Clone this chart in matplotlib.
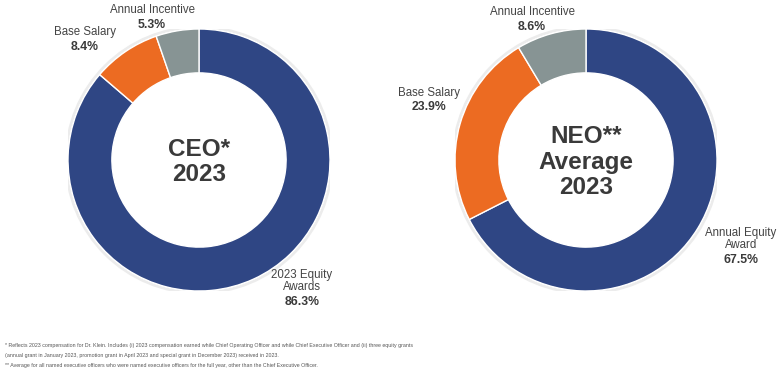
import matplotlib
matplotlib.use("Agg")
import matplotlib.pyplot as plt
from matplotlib.patches import Circle

plt.rcParams['font.family'] = ['Liberation Sans', 'DejaVu Sans']

categories = ["Equity", "Base Salary", "Annual Incentive"]
ceo_values = [86.3, 8.4, 5.3]
neo_values = [67.5, 23.9, 8.6]
colors = ["#2F4684", "#EC6B22", "#879494"]

ceo_center_title = "CEO*\n2023"
neo_center_title = "NEO**\nAverage\n2023"

ceo_labels = ["2023 Equity\nAwards", "Base Salary", "Annual Incentive"]
neo_labels = ["Annual Equity\nAward", "Base Salary", "Annual Incentive"]

footnotes = [
    "* Reflects 2023 compensation for Dr. Klein. Includes (i) 2023 compensation earned while Chief Operating Officer and while Chief Executive Officer and (ii) three equity grants",
    "(annual grant in January 2023, promotion grant in April 2023 and special grant in December 2023) received in 2023.",
    "** Average for all named executive officers who were named executive officers for the full year, other than the Chief Executive Officer.",
]

W, H = 784, 373
fig = plt.figure(figsize=(W / 100, H / 100), dpi=100)
fig.patch.set_facecolor("white")

R = 131.0


def make_ax(cx, cy):
    ax = fig.add_axes([(cx - R) / W, (H - cy - R) / H, 2 * R / W, 2 * R / H])
    ax.set_xlim(-1, 1)
    ax.set_ylim(-1, 1)
    ax.set_aspect("equal")
    ax.axis("off")
    return ax


def px(cx, cy, x, y):
    return ((x - cx) / R, (cy - y) / R)


label_color = "#444444"
pct_color = "#3a3a3a"


def draw(ax, values, title, title_size, title_y):
    ax.add_patch(Circle((0, 0), 1.015, facecolor="none", edgecolor="#ececec", lw=2.0, zorder=0))
    ax.pie(values, colors=colors, startangle=90, counterclock=False, radius=1.0,
           wedgeprops=dict(width=0.335, edgecolor="white", linewidth=1.0))
    ax.set_xlim(-1, 1)
    ax.set_ylim(-1, 1)
    ax.text(0, title_y, title, ha="center", va="center", fontsize=title_size,
            fontweight="bold", color="#3a3a3a", linespacing=1.12)


def label(ax, cx, cy, x, y_name, name, y_pct, value):
    ax.text(*px(cx, cy, x, y_name), name, ha="center", va="center", fontsize=8.3,
            color=label_color, linespacing=1.05, clip_on=False)
    ax.text(*px(cx, cy, x, y_pct), f"{value}%", ha="center", va="center", fontsize=8.8,
            fontweight="bold", color=pct_color, clip_on=False)


# CEO donut
cx1, cy1 = 199, 160
ax1 = make_ax(cx1, cy1)
draw(ax1, ceo_values, ceo_center_title, 17.5, (cy1 - 162) / R)
label(ax1, cx1, cy1, 302, 281, ceo_labels[0], 302, ceo_values[0])
label(ax1, cx1, cy1, 85, 32, ceo_labels[1], 47, ceo_values[1])
label(ax1, cx1, cy1, 152, 10, ceo_labels[2], 25, ceo_values[2])

# NEO donut
cx2, cy2 = 586, 160
ax2 = make_ax(cx2, cy2)
draw(ax2, neo_values, neo_center_title, 17.5, (cy2 - 162) / R)
label(ax2, cx2, cy2, 741, 239, neo_labels[0], 260, neo_values[0])
label(ax2, cx2, cy2, 429, 93, neo_labels[1], 107, neo_values[1])
label(ax2, cx2, cy2, 532, 12, neo_labels[2], 27, neo_values[2])

for i, line in enumerate(footnotes):
    fig.text(5 / W, 1 - (346 + 9.5 * i) / H, line, ha="left", va="center",
             fontsize=3.8, color="#555555")

fig.savefig("out.png", dpi=100, facecolor="white")
